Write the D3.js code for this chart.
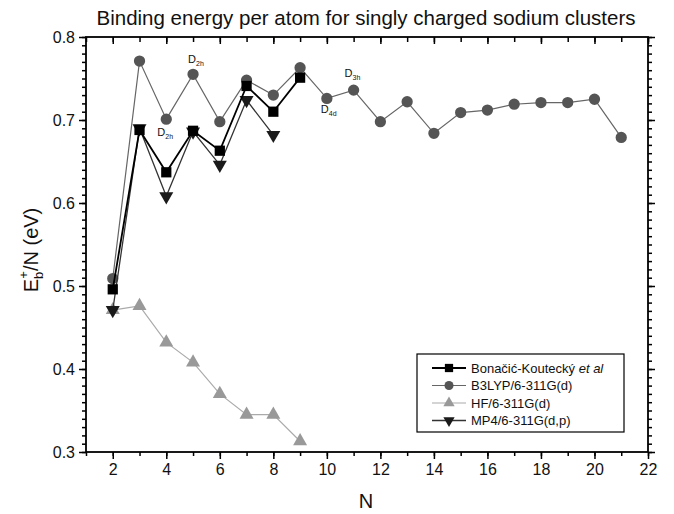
<!DOCTYPE html>
<html>
<head>
<meta charset="utf-8">
<script src="https://d3js.org/d3.v7.min.js"></script>
<style>
  body { margin: 0; background: #fff; }
  text { font-family: "Liberation Sans", Arial, sans-serif; }
</style>
</head>
<body>
<div id="chart"></div>
<script>
// cluster sizes and binding energies per atom (eV)
const nBonacic = [2, 3, 4, 5, 6, 7, 8, 9];
const bonacic = [0.496, 0.688, 0.637, 0.687, 0.663, 0.741, 0.710, 0.751];

const nB3lyp = [2, 3, 4, 5, 6, 7, 8, 9, 10, 11, 12, 13, 14, 15, 16, 17, 18, 19, 20, 21];
const b3lyp = [0.509, 0.771, 0.701, 0.755, 0.698, 0.748, 0.730, 0.763, 0.726, 0.736,
               0.698, 0.722, 0.684, 0.709, 0.712, 0.719, 0.721, 0.721, 0.725, 0.679];

const nHf = [2, 3, 4, 5, 6, 7, 8, 9];
const hf = [0.471, 0.476, 0.432, 0.408, 0.370, 0.345, 0.345, 0.313];

const nMp4 = [2, 3, 4, 5, 6, 7, 8];
const mp4 = [0.471, 0.690, 0.608, 0.686, 0.646, 0.724, 0.682];

const xTicks = [2, 4, 6, 8, 10, 12, 14, 16, 18, 20, 22];
const yTicks = [0.3, 0.4, 0.5, 0.6, 0.7, 0.8];

// symmetry labels attached to B3LYP points
const symN = [5, 4, 10, 11];
const symSub = ["2h", "2h", "4d", "3h"];

const width = 674, height = 514;
const margin = { top: 37, right: 26, bottom: 62, left: 86 };

const svg = d3.select("#chart").append("svg")
    .attr("width", width)
    .attr("height", height);

const x = d3.scaleLinear().domain([1, 22]).range([margin.left, width - margin.right]);
const y = d3.scaleLinear().domain([0.3, 0.8]).range([height - margin.bottom, margin.top]);

const x0 = x.range()[0], x1 = x.range()[1], y0 = y.range()[0], y1 = y.range()[1];

// axes: major + minor ticks, outward on bottom/left, inward on top/right
const minorX = d3.range(1, 23, 1);
const minorY = d3.range(30, 81, 1).map(d => d / 100);

function axisGroup(axis, tx, ty) {
  const g = svg.append("g").attr("transform", `translate(${tx},${ty})`).call(axis);
  g.select(".domain").remove();
  g.selectAll("line").attr("stroke", "#000").attr("stroke-width", 1.5);
  g.selectAll("text").attr("font-size", 16).attr("fill", "#111");
  return g;
}

axisGroup(d3.axisBottom(x).tickValues(minorX).tickSize(4).tickFormat(""), 0, y0);
axisGroup(d3.axisBottom(x).tickValues(xTicks).tickSize(7).tickPadding(5).tickFormat(d3.format("d")), 0, y0);
axisGroup(d3.axisLeft(y).tickValues(minorY).tickSize(4).tickFormat(""), x0, 0);
axisGroup(d3.axisLeft(y).tickValues(yTicks).tickSize(7).tickPadding(4).tickFormat(d3.format(".1f")), x0, 0);

axisGroup(d3.axisBottom(x).tickValues(minorX).tickSize(5).tickFormat(""), 0, y1);
axisGroup(d3.axisBottom(x).tickValues(xTicks).tickSize(7).tickFormat(""), 0, y1);
axisGroup(d3.axisLeft(y).tickValues(minorY).tickSize(4).tickFormat(""), x1 + 4, 0);
axisGroup(d3.axisLeft(y).tickValues(yTicks).tickSize(7).tickFormat(""), x1 + 7, 0);

svg.append("rect")
    .attr("x", x0).attr("y", y1)
    .attr("width", x1 - x0).attr("height", y0 - y1)
    .attr("fill", "none").attr("stroke", "#000").attr("stroke-width", 1.8);

// series
const series = [
  { name: "B3LYP/6-311G(d)", n: nB3lyp, v: b3lyp, color: "#555", line: "#666", lw: 1.2, sym: d3.symbolCircle, size: 100, rot: 0 },
  { name: "HF/6-311G(d)", n: nHf, v: hf, color: "#999", line: "#aaa", lw: 1.2, sym: d3.symbolTriangle, size: 85, rot: 0 },
  { name: "MP4/6-311G(d,p)", n: nMp4, v: mp4, color: "#1a1a1a", line: "#333", lw: 1.3, sym: d3.symbolTriangle, size: 85, rot: 180 },
  { name: "Bonačić-Koutecký", n: nBonacic, v: bonacic, color: "#000", line: "#000", lw: 1.8, sym: d3.symbolSquare, size: 105, rot: 0 }
];

const line = d3.line().x(d => x(d[0])).y(d => y(d[1]));

series.forEach(s => {
  const pts = s.n.map((n, i) => [n, s.v[i]]);
  svg.append("path")
      .datum(pts)
      .attr("d", line)
      .attr("fill", "none")
      .attr("stroke", s.line)
      .attr("stroke-width", s.lw);
  svg.selectAll(null)
      .data(pts)
      .enter()
      .append("path")
      .attr("d", d3.symbol().type(s.sym).size(s.size))
      .attr("transform", d => `translate(${x(d[0])},${y(d[1])}) rotate(${s.rot})`)
      .attr("fill", s.color);
});

// symmetry labels
const symOffset = [[-5, -11], [-9, 17], [-6, 15], [-9, -13]];
symN.forEach((n, i) => {
  const v = b3lyp[nB3lyp.indexOf(n)];
  const t = svg.append("text")
      .attr("x", x(n) + symOffset[i][0])
      .attr("y", y(v) + symOffset[i][1])
      .attr("font-size", 11)
      .attr("fill", "#111");
  t.append("tspan").text("D");
  t.append("tspan").text(symSub[i]).attr("font-size", 7).attr("dy", 3);
});

// legend
const lg = svg.append("g").attr("transform", "translate(417,354)");
lg.append("rect")
    .attr("width", 207).attr("height", 78)
    .attr("fill", "#fff").attr("stroke", "#000").attr("stroke-width", 1.2);

const legendOrder = [3, 0, 1, 2];
legendOrder.forEach((k, i) => {
  const s = series[k];
  const ly = 14 + i * 17.5;
  lg.append("line")
      .attr("x1", 15).attr("x2", 49).attr("y1", ly).attr("y2", ly)
      .attr("stroke", s.line).attr("stroke-width", s.lw);
  lg.append("path")
      .attr("d", d3.symbol().type(s.sym).size(s.size * 0.65))
      .attr("transform", `translate(32,${ly}) rotate(${s.rot})`)
      .attr("fill", s.color);
  const t = lg.append("text")
      .attr("x", 54).attr("y", ly + 4.5)
      .attr("font-size", 13).attr("fill", "#111");
  t.append("tspan").text(s.name);
  if (k === 3) t.append("tspan").text(" et al").attr("font-style", "italic");
});

// titles
svg.append("text")
    .attr("x", 366).attr("y", 25)
    .attr("text-anchor", "middle")
    .attr("font-size", 20.5)
    .attr("fill", "#111")
    .text("Binding energy per atom for singly charged sodium clusters");

svg.append("text")
    .attr("x", 366).attr("y", 508)
    .attr("text-anchor", "middle")
    .attr("font-size", 20)
    .attr("fill", "#111")
    .text("N");

const yl = svg.append("text")
    .attr("transform", "translate(38,250) rotate(-90)")
    .attr("text-anchor", "middle")
    .attr("font-size", 20)
    .attr("fill", "#111");
yl.append("tspan").text("E");
yl.append("tspan").text("b").attr("font-size", 13).attr("dy", 5);
yl.append("tspan").text("+").attr("font-size", 13).attr("dx", -7).attr("dy", -15);
yl.append("tspan").text("/N (eV)").attr("dy", 10);
</script>
</body>
</html>
